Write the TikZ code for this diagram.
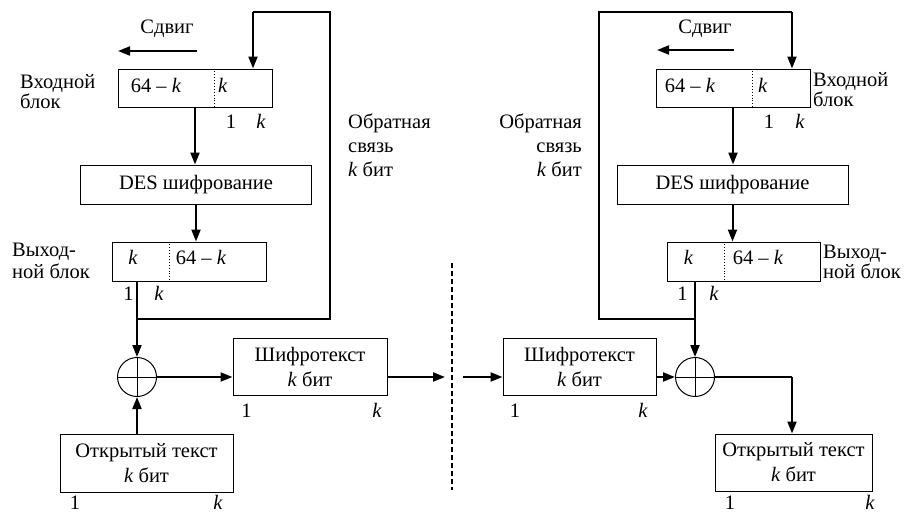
\documentclass[tikz,border=0pt]{standalone}
\usepackage{fontspec}
\setmainfont{Liberation Serif}
\usetikzlibrary{arrows.meta}

\tikzset{
  blk/.style={draw, line width=1pt, inner sep=0pt, align=center},
  xorop/.style={draw, circle, line width=1pt, minimum size=39pt, inner sep=0pt},
  flow/.style={line width=2pt, -{Triangle[length=12pt,width=9pt]}},
  fb/.style={line width=1.2pt},
  txt/.style={inner sep=0pt, anchor=base},
  sidel/.style={inner sep=0pt, anchor=north west, align=left},
  sider/.style={inner sep=0pt, anchor=north east, align=right},
}

\begin{document}
\begin{tikzpicture}[x=1pt, y=-1pt, font=\fontsize{20.5}{25}\selectfont]
\useasboundingbox (0,0) rectangle (910,512);

% encryption side
\node[blk, minimum width=154pt, minimum height=38pt] (inL) at (195,88) {};
\node[blk, minimum width=231pt, minimum height=39pt] (desL) at (196,184.5) {DES шифрование};
\node[blk, minimum width=154pt, minimum height=39pt] (outL) at (189,261.5) {};
\node[xorop] (xorL) at (137,377) {};
\node[blk, minimum width=154pt, minimum height=57pt] (ctL) at (310,366.5) {Шифротекст\\\textit{k} бит};
\node[blk, minimum width=173pt, minimum height=58pt] (ptL) at (146.5,463) {Открытый текст\\\textit{k} бит};
\draw[line width=1pt] (xorL.north) -- (xorL.south) (xorL.west) -- (xorL.east);

\coordinate (dvInL) at (214,0);
\coordinate (dvOutL) at (169,0);
\draw[dotted, line width=0.9pt] (dvInL |- inL.north) -- (dvInL |- inL.south);
\draw[dotted, line width=0.9pt] (dvOutL |- outL.north) -- (dvOutL |- outL.south);
\node[txt] (inLa) at (156,92) {64 – \textit{k}};
\node[txt, anchor=base west] (inLb) at (218,92) {\textit{k}};
\node[txt] (outLa) at (133,264) {\textit{k}};
\node[txt] (outLb) at (201,264) {64 – \textit{k}};

\node[txt] (inL1) at (231,128) {1};
\node[txt] (inLk) at (261,128) {\textit{k}};
\node[txt] (outL1) at (128.5,300) {1};
\node[txt] (outLk) at (159,300) {\textit{k}};
\node[txt] (ctL1) at (246.5,417) {1};
\node[txt] (ctLk) at (377,417) {\textit{k}};
\node[txt] (ptL1) at (75,509) {1};
\node[txt] (ptLk) at (218,509) {\textit{k}};

\node[txt] (shL) at (167,33) {Сдвиг};
\coordinate (shLa) at (197,51);
\coordinate (shLb) at (118,51);
\draw[flow] (shLa) -- (shLb);

\node[sidel, font=\fontsize{20.5}{20}\selectfont] (inLlbl) at (20,74.5) {Входной\\блок};
\node[sidel, font=\fontsize{20.5}{22}\selectfont] (outLlbl) at (12,242.5) {Выход-\\ной блок};
\node[sidel, font=\fontsize{20.5}{24}\selectfont] (fbLlbl) at (348,114) {Обратная\\связь\\\textit{k} бит};

\coordinate (fbLin) at (253,12);
\coordinate (fbLjoin) at (137,319);
\draw[fb] (fbLjoin) -- ++(193,0) |- (fbLin);
\draw[flow] (fbLin) -- (fbLin |- inL.north);
\draw[flow] (inL.south) -- (inL.south |- desL.north);
\draw[flow] (desL.south) -- (desL.south |- outL.north);
\draw[flow] (xorL |- outL.south) -- (xorL.north);
\draw[flow] (xorL |- ptL.north) -- (xorL.south);
\draw[flow] (xorL.east) -- (xorL -| ctL.west);
\coordinate (dashL) at (445,377);
\draw[flow] (ctL.east |- xorL) -- (dashL);

% channel
\draw[line width=1.4pt, dash pattern=on 5pt off 3pt] (452,263) -- (452,490);

% decryption side
\node[blk, minimum width=154pt, minimum height=38pt] (inR) at (733,88) {};
\node[blk, minimum width=231pt, minimum height=39pt] (desR) at (732.5,184.5) {DES шифрование};
\node[blk, minimum width=153pt, minimum height=39pt] (outR) at (743.5,261.5) {};
\node[xorop] (xorR) at (695,377) {};
\node[blk, minimum width=153pt, minimum height=57pt] (ctR) at (579.5,366.5) {Шифротекст\\\textit{k} бит};
\node[blk, minimum width=157pt, minimum height=57pt] (ptR) at (793.5,462.5) {Открытый текст\\\textit{k} бит};
\draw[line width=1pt] (xorR.north) -- (xorR.south) (xorR.west) -- (xorR.east);

\coordinate (dvInR) at (752,0);
\coordinate (dvOutR) at (724,0);
\draw[dotted, line width=0.9pt] (dvInR |- inR.north) -- (dvInR |- inR.south);
\draw[dotted, line width=0.9pt] (dvOutR |- outR.north) -- (dvOutR |- outR.south);
\node[txt] (inRa) at (690,92) {64 – \textit{k}};
\node[txt, anchor=base west] (inRb) at (758,92) {\textit{k}};
\node[txt] (outRa) at (688.5,264) {\textit{k}};
\node[txt] (outRb) at (758,264) {64 – \textit{k}};

\node[txt] (inR1) at (769,128) {1};
\node[txt] (inRk) at (800,128) {\textit{k}};
\node[txt] (outR1) at (682.5,300) {1};
\node[txt] (outRk) at (714,300) {\textit{k}};
\node[txt] (ctR1) at (515,417) {1};
\node[txt] (ctRk) at (643,417) {\textit{k}};
\node[txt] (ptR1) at (730,509) {1};
\node[txt] (ptRk) at (870,509) {\textit{k}};

\node[txt] (shR) at (705,33) {Сдвиг};
\coordinate (shRa) at (734,50);
\coordinate (shRb) at (657,50);
\draw[flow] (shRa) -- (shRb);

\node[sidel, font=\fontsize{20.5}{17}\selectfont] (inRlbl) at (813,72.5) {Входной\\блок};
\node[sidel, font=\fontsize{20.5}{20}\selectfont] (outRlbl) at (823,244.5) {Выход-\\ной блок};
\node[sider, font=\fontsize{20.5}{24}\selectfont] (fbRlbl) at (582,114) {Обратная\\связь\\\textit{k} бит};

\coordinate (fbRin) at (792,12);
\coordinate (fbRjoin) at (695,319);
\draw[fb] (fbRjoin) -- ++(-96,0) |- (fbRin);
\draw[flow] (fbRin) -- (fbRin |- inR.north);
\draw[flow] (inR.south) -- (inR.south |- desR.north);
\draw[flow] (desR.south) -- (desR.south |- outR.north);
\draw[flow] (xorR |- outR.south) -- (xorR.north);
\coordinate (dashR) at (463,377);
\draw[flow] (dashR) -- (dashR -| ctR.west);
\draw[flow] (ctR.east |- xorR) -- (xorR.west);
\coordinate (ptRin) at (792,377);
\draw[fb] (xorR.east) -- (ptRin);
\draw[flow] (ptRin) -- (ptRin |- ptR.north);
\end{tikzpicture}
\end{document}
